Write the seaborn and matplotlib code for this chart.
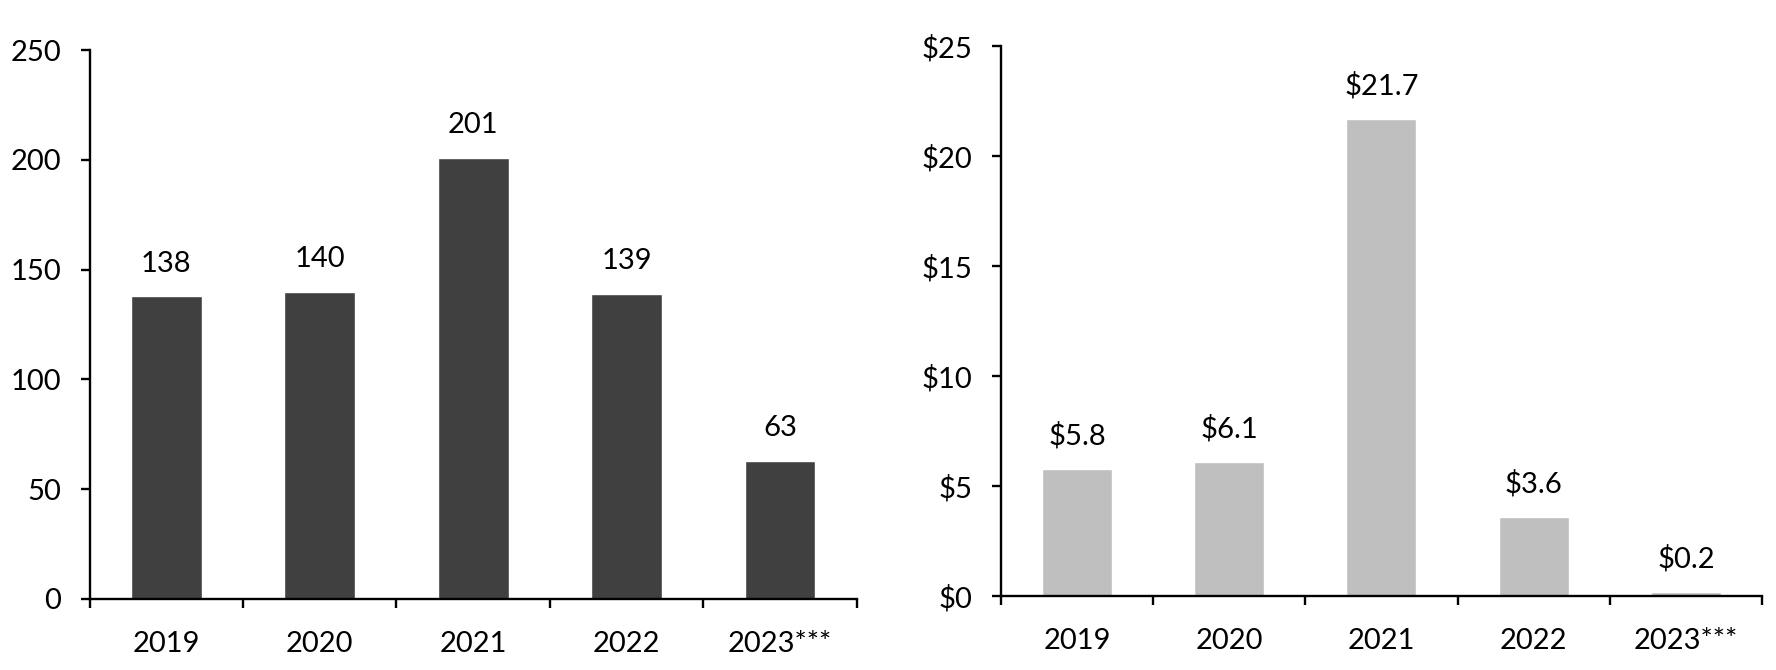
import matplotlib
matplotlib.use("Agg")
import matplotlib.pyplot as plt
import seaborn as sns
import numpy as np
from matplotlib.ticker import FixedLocator, FuncFormatter

years = ["2019", "2020", "2021", "2022", "2023***"]
deal_counts = [138, 140, 201, 139, 63]
deal_values = [5.8, 6.1, 21.7, 3.6, 0.2]

sns.set_theme(style="white")
plt.rcParams['font.family'] = ['Lato', 'DejaVu Sans']

FS = 21

fig = plt.figure(figsize=(17.76, 6.7), dpi=100)
ax1 = fig.add_axes([0.0504, 0.106, 0.4321, 0.819])
ax2 = fig.add_axes([0.5636, 0.110, 0.4285, 0.821])

def style(ax, ymax, step, fmt):
    ax.set_ylim(0, ymax)
    ax.set_xlim(-0.5, len(years) - 0.5)
    ax.set_yticks(np.arange(0, ymax + step / 2, step))
    ax.yaxis.set_major_formatter(FuncFormatter(fmt))
    for s in ["top", "right"]:
        ax.spines[s].set_visible(False)
    for s in ["left", "bottom"]:
        ax.spines[s].set_linewidth(1.7)
        ax.spines[s].set_color("black")
    ax.tick_params(axis="y", which="major", direction="out", length=6.5, width=1.7,
                   color="black", labelsize=FS, pad=14, left=True)
    ax.tick_params(axis="x", which="major", length=0, labelsize=FS, pad=23)
    ax.xaxis.set_minor_locator(FixedLocator(np.arange(-0.5, len(years), 1.0)))
    ax.tick_params(axis="x", which="minor", direction="out", length=6.5, width=1.7,
                   color="black", bottom=True)
    ax.set_xlabel("")
    ax.set_ylabel("")
    for lab in ax.get_xticklabels() + ax.get_yticklabels():
        lab.set_color("black")

sns.barplot(x=years, y=deal_counts, color="#404040", width=0.46, saturation=1, ax=ax1)
style(ax1, 250, 50, lambda v, p: f"{int(v)}")
for i, v in enumerate(deal_counts):
    ax1.annotate(f"{v}", (i, v), xytext=(0, 14), textcoords="offset points",
                 ha="center", va="bottom", fontsize=FS, color="black")

sns.barplot(x=years, y=deal_values, color="#bfbfbf", width=0.46, saturation=1, ax=ax2)
style(ax2, 25, 5, lambda v, p: f"${int(v)}")
for i, v in enumerate(deal_values):
    ax2.annotate(f"${v:.1f}", (i, v), xytext=(0, 14), textcoords="offset points",
                 ha="center", va="bottom", fontsize=FS, color="black")

fig.savefig("out.png", dpi=100, facecolor="white")
